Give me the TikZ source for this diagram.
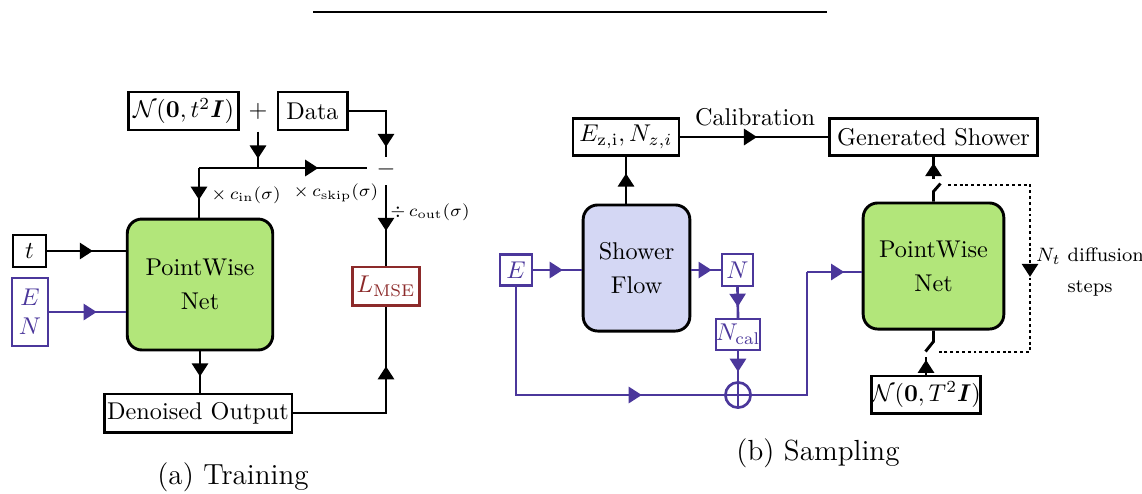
\documentclass[tikz,border=0pt]{standalone}
\usepackage{amsmath}
\usepackage{bm}
\usetikzlibrary{arrows.meta,decorations.markings}

\definecolor{flowpurple}{RGB}{75,55,155}
\definecolor{lossred}{RGB}{140,42,42}
\definecolor{netgreen}{RGB}{178,230,122}
\definecolor{flowblue}{RGB}{212,215,244}

\tikzset{
	box/.style = {draw, line width=1.2pt, inner sep=0pt, align=center},
	pbox/.style = {draw=flowpurple, text=flowpurple, line width=1pt, inner sep=0pt, align=center},
	net/.style = {draw, line width=1.2pt, rounded corners=6pt, inner sep=0pt, align=center},
	wire/.style = {line width=1.2pt},
	pwire/.style = {line width=1.1pt, flowpurple},
	marrow/.style = {postaction={decorate}, decoration={markings, mark=at position #1 with {\arrow{Triangle[width=6.6pt,length=5.4pt]}}}},
	lab/.style = {font=\fontsize{7.5}{9}\selectfont, inner sep=1pt},
}

\begin{document}
\begin{tikzpicture}[x=0.0145cm, y=-0.0145cm]
		\useasboundingbox (0,0) rectangle (1142,493);
		\draw[line width=0.6pt] (313,12) -- (827,12);

		% (a) training
		\node[box, minimum width=45pt, minimum height=15.7pt] (Noise) at (183.5,111) {$\mathcal{N}(\mathbf{0},t^2\bm{I})$};
		\node[inner sep=5pt] (Plus) at (258,111) {$+$};
		\node[box, minimum width=28.5pt, minimum height=15.7pt] (Data) at (312.5,111) {Data};
		\node (Minus) at (386,169) {$-$};
		\node[box, draw=lossred, text=lossred, minimum width=28pt, minimum height=15.7pt] (Loss) at (386,286) {$L_{\mathrm{MSE}}$};
		\node[net, fill=netgreen, minimum width=60pt, minimum height=54pt] (NetA) at (200,284.5) {PointWise\\[2pt]Net};
		\node[box, minimum width=13.6pt, minimum height=13.2pt] (T) at (29.5,251) {$t$};
		\node[pbox, minimum width=14.9pt, minimum height=28pt] (EN) at (30,312) {$E$\\$N$};
		\node[box, minimum width=77.5pt, minimum height=15.7pt] (Denoised) at (198,413) {Denoised Output};
		\node[font=\large] (CapA) at (233,477) {(a) Training};

		\coordinate (JoinL) at (199,168);
		\coordinate (JoinM) at (258,168);
		\coordinate (JoinR) at (367,168);
		\coordinate (MinusTop) at (386,157);
		\coordinate (MinusBot) at (386,185);

		\draw[wire, marrow=0.88] (Data.east) -| (MinusTop);
		\draw[wire, marrow=0.74] (Plus.south) -- (JoinM);
		\draw[wire, marrow=0.71] (JoinL) -- (JoinR);
		\draw[wire, marrow=0.64] (JoinL) -- (NetA.north -| JoinL);
		\draw[wire, marrow=0.57] (MinusBot) -- (Loss.north);
		\draw[wire, marrow=0.58] (T.east) -- (NetA.west |- T.east);
		\draw[pwire, marrow=0.62] (EN.east) -- (NetA.west |- EN.east);
		\draw[wire, marrow=0.61] (NetA.south) -- (Denoised.north -| NetA.south);
		\draw[wire, marrow=0.70] (Denoised.east) -| (Loss.south);

		\node[lab] (Cin) at (246,195) {$\times\,c_{\mathrm{in}}(\sigma)$};
		\node[lab] (Cskip) at (336,193) {$\times\,c_{\mathrm{skip}}(\sigma)$};
		\node[lab] (Cout) at (430,212) {$\div\,c_{\mathrm{out}}(\sigma)$};

		% (b) sampling
		\node[box, minimum width=43.7pt, minimum height=14.9pt] (Ez) at (626,137) {$E_{\mathrm{z,i}}, N_{z,i}$};
		\node[box, minimum width=86pt, minimum height=14.9pt] (Gen) at (933.5,137) {Generated Shower};
		\node (Calib) at (755,117) {Calibration};
		\node[net, fill=flowblue, minimum width=44pt, minimum height=52pt] (Flow) at (636.5,268) {Shower\\[2pt]Flow};
		\node[pbox, minimum width=13.2pt, minimum height=12.8pt] (Eb) at (516,270) {$E$};
		\node[pbox, minimum width=12.8pt, minimum height=13.2pt] (Nb) at (737.5,270) {$N$};
		\node[pbox, minimum width=18pt, minimum height=12.8pt] (Ncal) at (738,334.5) {$N_{\mathrm{cal}}$};
		\node[circle, draw=flowpurple, line width=1.1pt, minimum size=10.4pt, inner sep=0pt] (Sum) at (738,395) {};
		\node[net, fill=netgreen, minimum width=58pt, minimum height=52pt] (NetB) at (933.5,266) {PointWise\\[2pt]Net};
		\node[box, minimum width=42pt, minimum height=15.3pt] (Normal) at (926,394.5) {$\mathcal{N}(\mathbf{0},T^2\bm{I})$};
		\node[font=\footnotesize, align=center] (Steps) at (1090,272) {$N_t$ diffusion\\[3pt]steps};
		\node[font=\large] (CapB) at (818,453) {(b) Sampling};

		\coordinate (SumTurn) at (807,272);
		\coordinate (GenTap) at (933.5,179);
		\coordinate (NormTap) at (926,357);
		\coordinate (LoopA) at (948,185);
		\coordinate (LoopB) at (1030,185);
		\coordinate (LoopC) at (1030,352);
		\coordinate (LoopD) at (938,352);

		\draw[wire, marrow=0.64] (Flow.north -| Ez.south) -- (Ez.south);
		\draw[wire, marrow=0.52] (Ez.east) -- (Gen.west);
		\draw[pwire, marrow=0.61] (Eb.east) -- (Flow.west |- Eb.east);
		\draw[pwire, marrow=0.69] (Flow.east |- Nb.west) -- (Nb.west);
		\draw[pwire, marrow=0.64] (Nb.south) -- (Ncal.north);
		\draw[pwire, marrow=0.69] (Ncal.south) -- (Sum.north);
		\draw[pwire, marrow=0.74] (Eb.south) |- (Sum.west);
		\draw[pwire] (Sum.north) -- (Sum.south) (Sum.west) -- (Sum.east);
		\draw[pwire] (Sum.east) -| (SumTurn);
		\draw[pwire, marrow=0.68] (SumTurn) -- (NetB.west |- SumTurn);

		\draw[wire] (NetB.north) -- ++(0,-10) -- ++(7,-8);
		\draw[wire, marrow=0.71] (GenTap) -- (Gen.south -| GenTap);
		\draw[wire, dash pattern=on 1.2pt off 1.2pt, marrow=0.51] (LoopA) -- (LoopB) -- (LoopC) -- (LoopD);
		\draw[wire] (NetB.south) -- ++(0,11) -- ++(-8,10);
		\draw[wire, marrow=0.84] (Normal.north) -- (NormTap);
\end{tikzpicture}
\end{document}
